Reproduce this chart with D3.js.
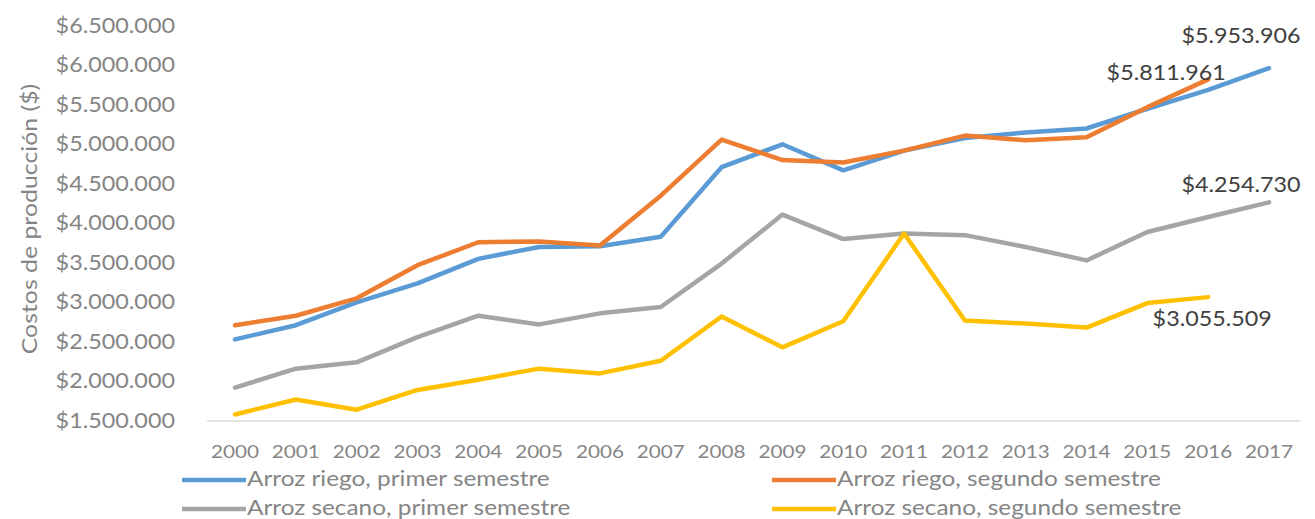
<!DOCTYPE html>
<html>
<head>
<meta charset="utf-8">
<script src="https://cdn.jsdelivr.net/npm/d3@7"></script>
<style>
  html, body { margin: 0; padding: 0; background: #fff; }
  svg { display: block; }
  text { font-family: Lato, "Open Sans", sans-serif; }
</style>
</head>
<body>
<svg id="chart" width="1315" height="519"></svg>
<script>
const years = ["2000","2001","2002","2003","2004","2005","2006","2007","2008","2009","2010","2011","2012","2013","2014","2015","2016","2017"];
const yTicks = [1500000, 2000000, 2500000, 3000000, 3500000, 4000000, 4500000, 5000000, 5500000, 6000000, 6500000];

const riegoPrimer   = [2520000, 2700000, 2990000, 3230000, 3540000, 3690000, 3700000, 3820000, 4700000, 4990000, 4660000, 4910000, 5070000, 5140000, 5190000, 5440000, 5680000, 5953906];
const riegoSegundo  = [2700000, 2820000, 3040000, 3460000, 3750000, 3760000, 3710000, 4340000, 5050000, 4790000, 4760000, 4910000, 5100000, 5040000, 5080000, 5460000, 5811961];
const secanoPrimer  = [1910000, 2150000, 2230000, 2550000, 2820000, 2710000, 2850000, 2930000, 3480000, 4100000, 3790000, 3860000, 3840000, 3690000, 3520000, 3880000, 4070000, 4254730];
const secanoSegundo = [1570000, 1760000, 1630000, 1880000, 2010000, 2150000, 2090000, 2250000, 2810000, 2420000, 2750000, 3860000, 2760000, 2720000, 2670000, 2980000, 3055509];

const seriesNames = ["Arroz riego, primer semestre", "Arroz riego, segundo semestre", "Arroz secano, primer semestre", "Arroz secano, segundo semestre"];
const seriesColors = ["#5b9bd5", "#ed7d31", "#a5a5a5", "#ffc000"];
const seriesValues = [riegoPrimer, riegoSegundo, secanoPrimer, secanoSegundo];

const yTitle = "Costos de producción ($)";

const svg = d3.select("#chart");
const textGray = "#858585";

const x = d3.scalePoint().domain(years).range([235, 1269]);
const y = d3.scaleLinear().domain([1500000, 6500000]).range([420, 25]);

const fmt = v => "$" + d3.format(",")(v).replace(/,/g, ".");

// X axis line
svg.append("line")
  .attr("x1", 207).attr("x2", 1300)
  .attr("y1", y(1500000) + 1).attr("y2", y(1500000) + 1)
  .attr("stroke", "#d9d9d9").attr("stroke-width", 1.5);

// Y tick labels
svg.append("g").selectAll("text").data(yTicks).join("text")
  .attr("transform", d => `translate(175,${y(d)}) scale(1.14,1)`)
  .attr("text-anchor", "end").attr("dominant-baseline", "central")
  .attr("fill", textGray).attr("font-size", 20.5)
  .text(d => fmt(d));

// X tick labels
svg.append("g").selectAll("text").data(years).join("text")
  .attr("transform", d => `translate(${x(d)},451) scale(1.15,1)`)
  .attr("text-anchor", "middle").attr("dominant-baseline", "central")
  .attr("fill", textGray).attr("font-size", 18)
  .text(d => d);

// Y title
svg.append("text")
  .attr("transform", "translate(29,219) rotate(-90) scale(1.13,1)")
  .attr("text-anchor", "middle").attr("dominant-baseline", "central")
  .attr("fill", textGray).attr("font-size", 22)
  .text(yTitle);

// Lines
const line = d3.line().x((d, i) => x(years[i])).y(d => y(d));
seriesValues.forEach((vals, k) => {
  svg.append("path")
    .datum(vals)
    .attr("d", line)
    .attr("fill", "none")
    .attr("stroke", seriesColors[k])
    .attr("stroke-width", 4.5)
    .attr("stroke-linejoin", "round")
    .attr("stroke-linecap", "round");
});

// Data labels (last points)
const labels = [
  { k: 0, dx: -28, dy: -33 },
  { k: 1, dx: -42, dy: -8 },
  { k: 2, dx: -28, dy: -19 },
  { k: 3, dx: 4, dy: 21 }
];
labels.forEach(l => {
  const vals = seriesValues[l.k];
  const i = vals.length - 1;
  svg.append("text")
    .attr("transform", `translate(${x(years[i]) + l.dx},${y(vals[i]) + l.dy}) scale(1.06,1)`)
    .attr("text-anchor", "middle").attr("dominant-baseline", "central")
    .attr("fill", "#404040").attr("font-size", 22)
    .text(fmt(vals[i]));
});

// Legend
const legendPos = [
  { sx: 182, row: 0 }, { sx: 772, row: 0 },
  { sx: 182, row: 1 }, { sx: 772, row: 1 }
];
const legendRows = [480, 509];
seriesNames.forEach((name, k) => {
  const p = legendPos[k];
  const ly = legendRows[p.row];
  svg.append("line")
    .attr("x1", p.sx).attr("x2", p.sx + 64)
    .attr("y1", ly).attr("y2", ly)
    .attr("stroke", seriesColors[k]).attr("stroke-width", 4.5);
  svg.append("text")
    .attr("transform", `translate(${p.sx + 65},${ly - 2}) scale(1.16,1)`)
    .attr("dominant-baseline", "central")
    .attr("fill", textGray).attr("font-size", 21)
    .text(name);
});
</script>
</body>
</html>
